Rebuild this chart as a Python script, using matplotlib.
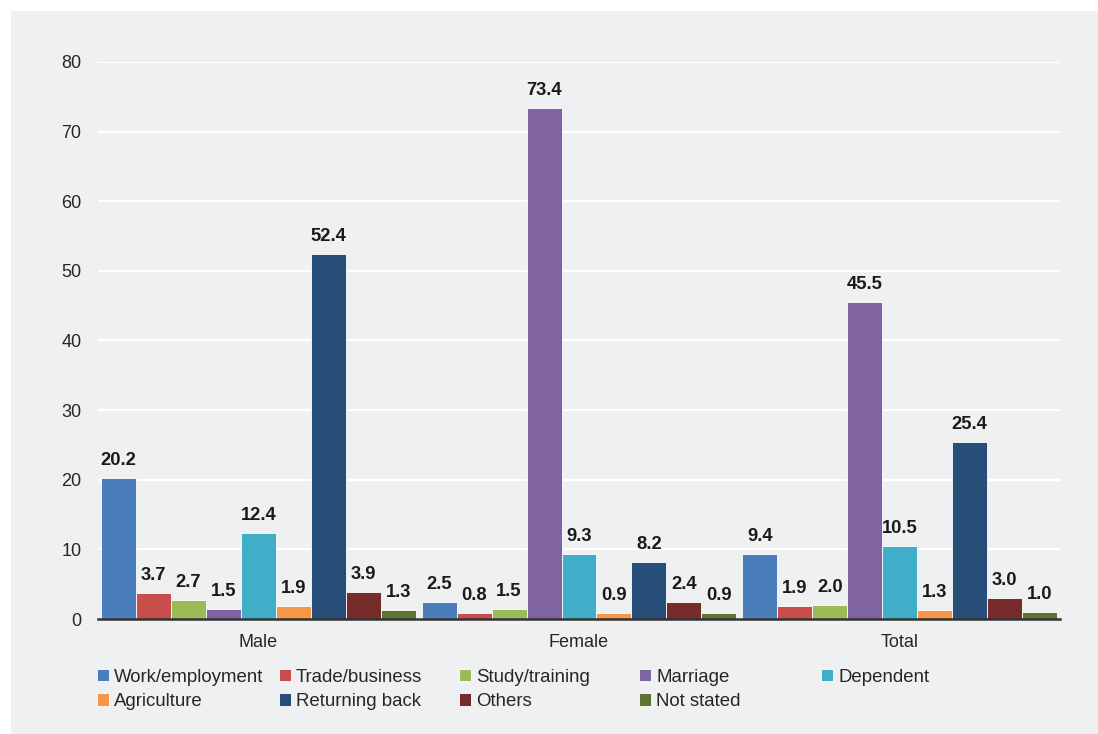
import matplotlib.pyplot as plt
import numpy as np
from matplotlib.patches import Rectangle

plt.rcParams["font.family"] = ["Liberation Sans", "DejaVu Sans"]

GROUPS = ["Male", "Female", "Total"]
REASONS = [
    "Work/employment", "Trade/business", "Study/training", "Marriage", "Dependent",
    "Agriculture", "Returning back", "Others", "Not stated",
]
MALE = [20.2, 3.7, 2.7, 1.5, 12.4, 1.9, 52.4, 3.9, 1.3]
FEMALE = [2.5, 0.8, 1.5, 73.4, 9.3, 0.9, 8.2, 2.4, 0.9]
TOTAL = [9.4, 1.9, 2.0, 45.5, 10.5, 1.3, 25.4, 3.0, 1.0]
COLORS = [
    "#4A7EBB", "#C84E4C", "#9BBB59", "#8064A2", "#41AEC9",
    "#F79646", "#264E78", "#772C2C", "#5E7531",
]

BG = "#EFF0F2"
W, H = 1098, 734

fig = plt.figure(figsize=(W / 100, H / 100), dpi=100, facecolor="white")
fig.patches.append(Rectangle((11 / W, 0), 1, 1 - 11 / H, transform=fig.transFigure,
                             facecolor=BG, edgecolor="none", zorder=-10))

ax = fig.add_axes([98 / W, 1 - 619 / H, (1060 - 98) / W, (619 - 62) / H])
ax.set_facecolor(BG)

data = np.array([MALE, FEMALE, TOTAL])
x = np.arange(len(GROUPS))
width = 0.109
bars = []
for k, reason in enumerate(REASONS):
    vals = data[:, k]
    b = ax.bar(x + (k - 4) * width, vals, width, color=COLORS[k],
               edgecolor="white", linewidth=0.6, label=reason, zorder=3)
    bars.append(b)
    for xi, v in zip(x + (k - 4) * width, vals):
        ax.text(xi, v + 1.3, f"{v:.1f}", ha="center", va="bottom",
                fontsize=13.2, fontweight="bold", color="#1a1a1a", zorder=4)

ax.set_xlim(-0.5, 2.5)
ax.set_ylim(0, 80)
ax.set_yticks(range(0, 81, 10))
ax.set_xticks(x)
ax.set_xticklabels(GROUPS)
ax.tick_params(axis="both", length=0, labelsize=13, colors="#262626")
ax.tick_params(axis="y", pad=12)
ax.tick_params(axis="x", pad=11)
ax.yaxis.grid(True, color="white", linewidth=1.6, zorder=0)
ax.set_axisbelow(True)
for side in ["top", "right", "left"]:
    ax.spines[side].set_visible(False)
ax.spines["bottom"].set_color("#333333")
ax.spines["bottom"].set_linewidth(1.8)
ax.spines["bottom"].set_zorder(5)

# legend: five evenly spaced columns, two rows
col_x = [97, 279, 459, 639, 821]
for c, cx in enumerate(col_x):
    idx = [i for i in (c, c + 5) if i < len(REASONS)]
    leg = fig.legend([bars[i] for i in idx], [REASONS[i] for i in idx],
                     loc="upper left", bbox_to_anchor=(cx / W, 1 - 669 / H),
                     frameon=False, fontsize=13.4, handlelength=0.62,
                     handleheight=0.62, handletextpad=0.3, labelspacing=0.38,
                     borderpad=0, borderaxespad=0)
    for t in leg.get_texts():
        t.set_color("#262626")

fig.savefig("out.png", dpi=100, facecolor="white")
